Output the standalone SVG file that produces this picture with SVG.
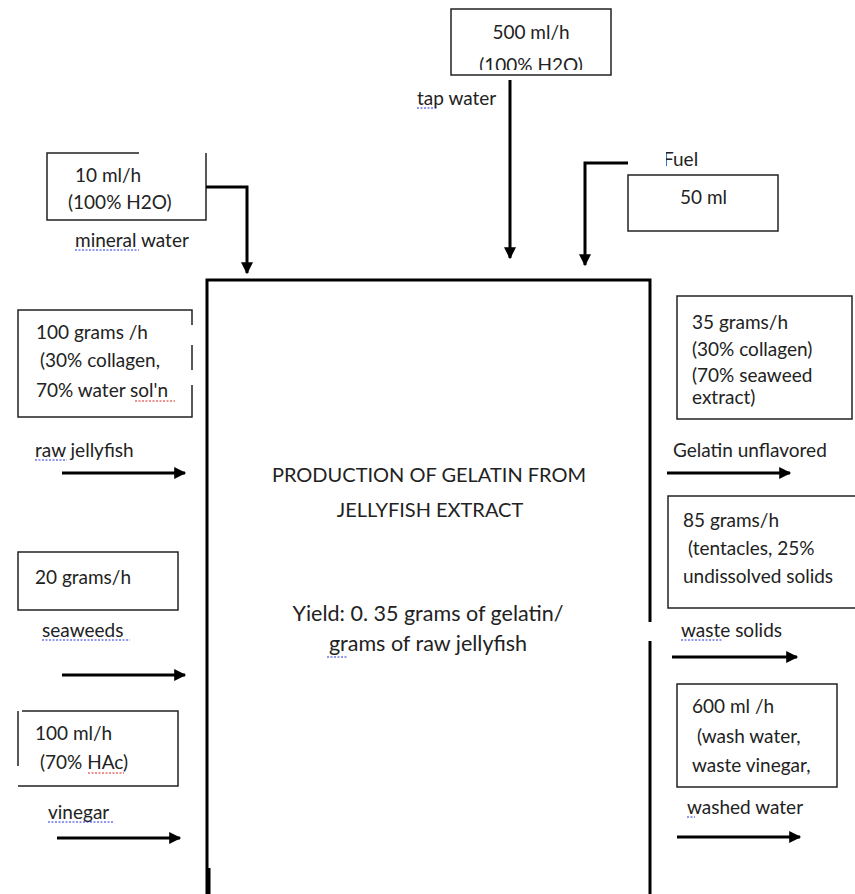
<svg xmlns="http://www.w3.org/2000/svg" width="855" height="894" viewBox="0 0 855 894">
<style>
text{font-family:Lato,"Liberation Sans",sans-serif;font-size:19px;fill:#222}
.c{font-size:20px;text-anchor:middle}
.y{font-size:21.5px;text-anchor:middle}
.box{fill:none;stroke:#222;stroke-width:1.5}
.ln{fill:none;stroke:#000;stroke-width:3}
.sq{fill:none;stroke-width:1;stroke-dasharray:2 1.5}
.b{stroke:#2233dd}.r{stroke:#dd2222}
</style>
<defs>
<marker id="ah" viewBox="0 0 10 10" refX="9" refY="5" markerWidth="4.5" markerHeight="4" orient="auto" markerUnits="strokeWidth"><path d="M0,0L10,5L0,10z" fill="#000"/></marker>
<clipPath id="clipTop"><rect x="440" y="0" width="180" height="70"/></clipPath>
<clipPath id="clipFuel"><rect x="666" y="148" width="60" height="22"/></clipPath>
<clipPath id="clipGel"><rect x="660" y="430" width="171" height="40"/></clipPath>
</defs>

<g id="process">
<path class="ln" d="M207,894V280H650V622M650,641V894M207,280V853M209,868V894" stroke-width="3.5"/>
<text class="c" x="429" y="482">PRODUCTION OF GELATIN FROM</text>
<text class="c" x="430" y="517">JELLYFISH EXTRACT</text>
<text class="y" x="428" y="621">Yield: 0. 35 grams of gelatin/</text>
<text class="y" x="428" y="651">grams of raw jellyfish</text>
<path class="sq b" d="M327,657h20"/>
</g>

<g id="tap-water">
<rect class="box" x="451" y="9" width="160" height="66"/>
<text x="531" y="39" text-anchor="middle">500 ml/h</text>
<g clip-path="url(#clipTop)"><text x="531" y="72" text-anchor="middle">(100% H2O)</text></g>
<text x="417" y="105">tap water</text>
<path class="sq b" d="M417,108h21"/>
</g>

<g id="fuel">
<g clip-path="url(#clipFuel)"><text x="663" y="166">Fuel</text></g>
<rect class="box" x="628" y="175" width="150" height="56"/>
<text x="680" y="204">50 ml</text>
</g>

<g id="mineral-water">
<path class="box" d="M139,153H47V220H206V153"/>
<text x="75" y="182">10 ml/h</text>
<text x="68" y="209">(100% H2O)</text>
<text x="75" y="247">mineral water</text>
<path class="sq b" d="M75,250h64"/>
</g>

<g id="raw-jellyfish">
<path class="box" d="M192,325V310H18V417H192V385M192,345V370"/>
<text x="36" y="339">100 grams /h</text>
<text x="40" y="367">(30% collagen,</text>
<text x="36" y="397">70% water sol'n</text>
<path class="sq r" d="M135,401h40"/>
<text x="35" y="457">raw jellyfish</text>
<path class="sq b" d="M35,460h32"/>
</g>

<g id="seaweeds">
<rect class="box" x="18" y="552" width="160" height="58"/>
<text x="35" y="584">20 grams/h</text>
<text x="42" y="637">seaweeds</text>
<path class="sq b" d="M42,640h88"/>
</g>

<g id="vinegar">
<path class="box" d="M18,711V766M22,711H178V786H18"/>
<text x="35" y="740">100 ml/h</text>
<text x="40" y="769">(70% HAc)</text>
<path class="sq r" d="M88,773h36"/>
<text x="48" y="819">vinegar</text>
<path class="sq b" d="M48,822h66"/>
</g>

<g id="gelatin">
<rect class="box" x="677" y="296" width="175" height="123"/>
<text x="692" y="329">35 grams/h</text>
<text x="692" y="356">(30% collagen)</text>
<text x="692" y="382">(70% seaweed</text>
<text x="692" y="404">extract)</text>
<g clip-path="url(#clipGel)"><text x="673" y="457">Gelatin unflavored</text></g>
</g>

<g id="waste-solids">
<path class="box" d="M855,496H668V608H855"/>
<text x="683" y="527">85 grams/h</text>
<text x="688" y="555">(tentacles, 25%</text>
<text x="683" y="583">undissolved solids</text>
<text x="681" y="637">waste solids</text>
<path class="sq b" d="M681,640h42"/>
</g>

<g id="washed-water">
<rect class="box" x="677" y="684" width="160" height="103"/>
<text x="692" y="713">600 ml /h</text>
<text x="697" y="743">(wash water,</text>
<text x="692" y="772">waste vinegar,</text>
<text x="687" y="814">washed water</text>
<path class="sq b" d="M687,817h8"/>
</g>

<g id="connectors">
<path class="ln" d="M510,80V258" marker-end="url(#ah)"/>
<path class="ln" d="M628,163H585V265" marker-end="url(#ah)"/>
<path class="ln" d="M206,187H247V273" marker-end="url(#ah)"/>
<path class="ln" d="M62,473H185" marker-end="url(#ah)"/>
<path class="ln" d="M62,675H185" marker-end="url(#ah)"/>
<path class="ln" d="M57,838H180" marker-end="url(#ah)"/>
<path class="ln" d="M667,473H790" marker-end="url(#ah)"/>
<path class="ln" d="M672,657H797" marker-end="url(#ah)"/>
<path class="ln" d="M677,837H800" marker-end="url(#ah)"/>
</g>
</svg>
